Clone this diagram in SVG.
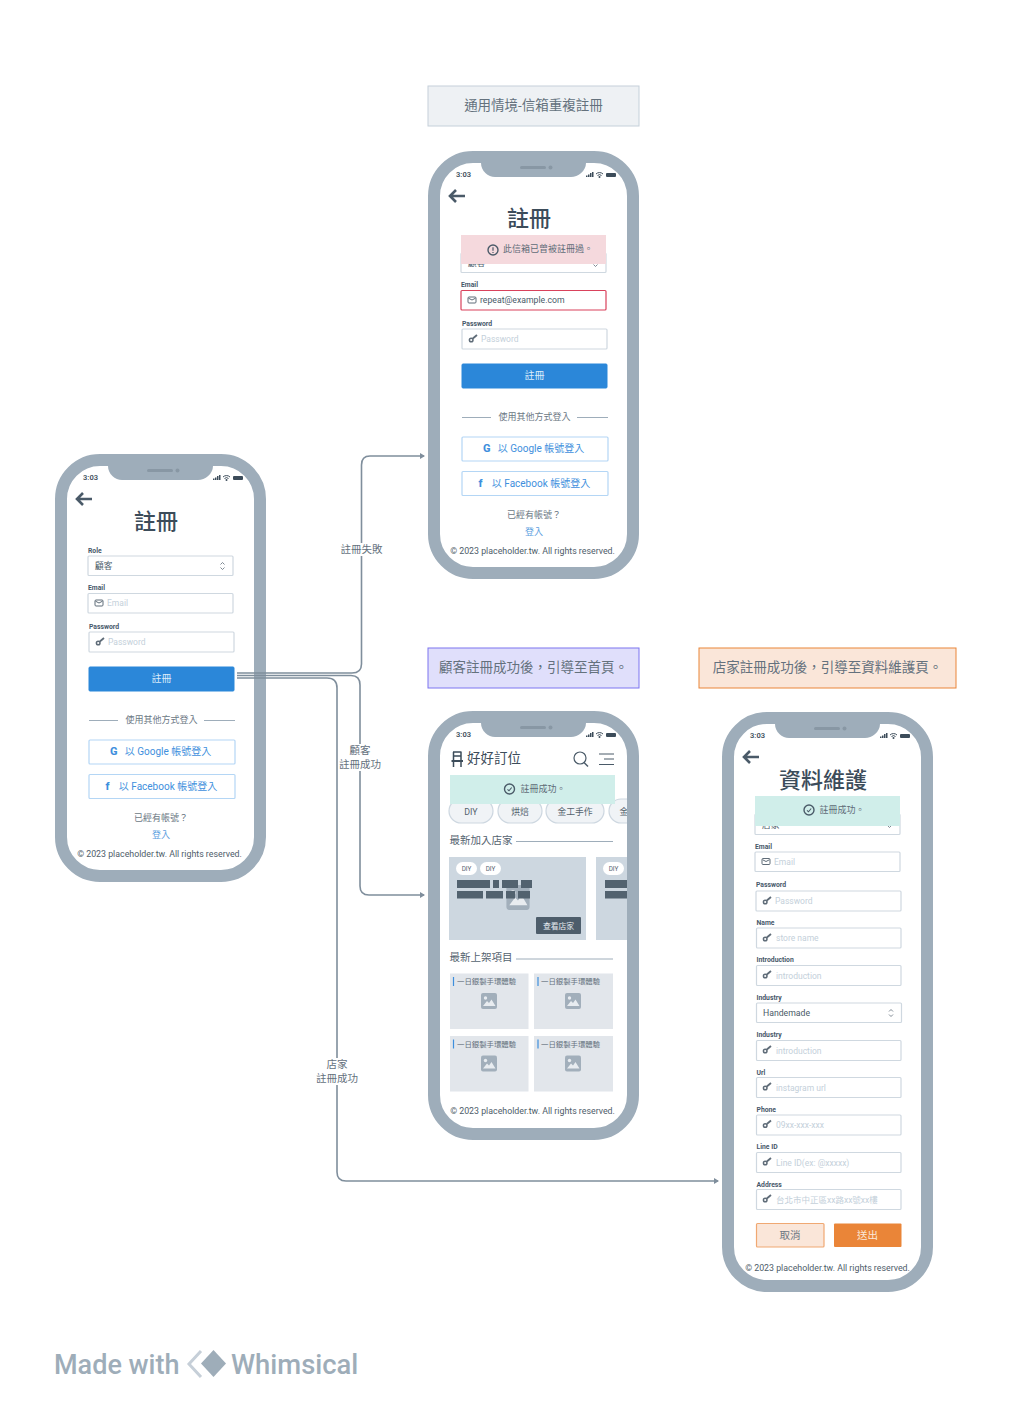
<svg xmlns="http://www.w3.org/2000/svg" xmlns:xlink="http://www.w3.org/1999/xlink" width="1024" height="1405" viewBox="0 0 1024 1405" xml:lang="zh-Hant">
<style>
text{font-family:Roboto,"Noto Sans CJK TC",sans-serif;fill:#5f6c78;font-size:9px}
.c{text-anchor:middle}
.lbl{font-size:6.8px;font-weight:700;fill:#47586a}
.ph{font-size:8.5px;fill:#c4d0da}
.val{font-size:8.7px;fill:#4a5a68}
.fld{fill:#fff;stroke:#cfd8e0;stroke-width:1.2}
.title{font-size:22px;font-weight:500;fill:#3c4c5a;text-anchor:middle}
.btn{fill:#2b87d9;stroke:#2b87d9}
.btnt{fill:#dcecf9;font-size:10px;text-anchor:middle}
.obtn{fill:#fff;stroke:#b4d6f5;stroke-width:1.2}
.blue{fill:#3e8fdd;font-size:10px;text-anchor:middle}
.muted{fill:#6c7884;font-size:9px;text-anchor:middle}
.copy{font-size:8.8px;fill:#4e5c69;text-anchor:middle}
.time{font-size:7.5px;font-weight:600;fill:#3c4c5a;text-anchor:middle}
.conn{fill:none;stroke:#7f8e9c;stroke-width:1.6}
.clab{font-size:10.5px;fill:#64717d;text-anchor:middle}
.frame{fill:none;stroke:#9eadba;stroke-width:12}
.head{font-size:10.5px;fill:#55636f}
.hr{stroke:#9eadba;stroke-width:1}
.chip{fill:#f0f3f6;stroke:#cdd7e0;stroke-width:1.2}
.chipt{font-size:8.8px;fill:#55636f;text-anchor:middle}
.pill{fill:#fff}
.pillt{font-size:6.4px;fill:#55636f;text-anchor:middle}
.bar{fill:#52626f}
.tile{fill:#e2e6eb}
.tilet{font-size:7.4px;fill:#64717d}
.banner{font-size:13.5px;fill:#64717d;text-anchor:middle}
.wm{font-size:27px;font-weight:500;fill:#9eadb9}
</style>
<defs>
<marker id="arr" markerWidth="6" markerHeight="6" refX="4" refY="3" orient="auto" markerUnits="userSpaceOnUse"><path d="M0 0L5 3L0 6z" fill="#7f8e9c"/></marker>
<clipPath id="scr"><rect x="12" y="12" width="187" height="404"/></clipPath>
<g id="top">
<path d="M53 12H158V12C158 20 150 26 143 26H67C60 26 53 20 53 12Z" fill="#9eadba"/>
<rect x="92" y="15" width="26" height="3" rx="1.5" fill="#8897a4"/>
<circle cx="122.500" cy="16.500" r="2" fill="#8897a4"/>
<text class="time" x="35.500" y="26">3:03</text>
<path d="M158 26h1.500v-1.500h-1.500zM160 26h1.500v-2.500h-1.500zM162 26h1.500v-4h-1.500zM164 26h1.500v-5h-1.500z" fill="#3c4c5a"/>
<path d="M168 23a5 5 0 0 1 7 0M169.500 24.500a3 3 0 0 1 4 0" fill="none" stroke="#3c4c5a" stroke-width="1"/>
<circle cx="171.500" cy="26" r="1" fill="#3c4c5a"/>
<rect x="178" y="22" width="10" height="4" rx="1" fill="#3c4c5a"/>
</g>
<g id="back"><path d="M17 0H2M8 -6L2 0L8 6" fill="none" stroke="#4a5a68" stroke-width="2.600"/></g>
<g id="mail"><rect x="0" y="0" width="8" height="6" rx="1" fill="none" stroke="#5f6c78" stroke-width="1"/><path d="M0.500 1.200L4 3L7.500 1.200" fill="none" stroke="#5f6c78" stroke-width="1"/></g>
<g id="key"><circle cx="2.200" cy="5" r="1.800" fill="none" stroke="#5f6c78" stroke-width="1.500"/><path d="M3.800 3.500L8 0" fill="none" stroke="#5f6c78" stroke-width="1.800"/></g>
<g id="updown"><path d="M-2 -1.500L0 -3.500L2 -1.500M-2 1.500L0 3.500L2 1.500" fill="none" stroke="#5f6c78" stroke-width="0.800"/></g>
<g id="pic"><rect x="-8" y="-8" width="16" height="16" rx="2" fill="#a2afbb"/><circle cx="-3.500" cy="-3" r="1.700" fill="#e8ecf0"/><path d="M-6 5L-2 0L0 2L2.500 -1.500L6.500 5Z" fill="#e8ecf0"/></g>
<g id="check"><circle r="5" fill="none" stroke="#4a5a68" stroke-width="1.400"/><path d="M-2 0.300L-0.500 1.800L2.200 -1.500" fill="none" stroke="#4a5a68" stroke-width="1.100"/></g>
<g id="warn"><circle r="5" fill="none" stroke="#4a5a68" stroke-width="1.400"/><path d="M0 -2.800V0.800M0 2V3" stroke="#4a5a68" stroke-width="1.200"/></g>
<g id="lower">
<rect class="btn" x="34" y="213" width="145" height="24" rx="1"/>
<text class="btnt" x="106.500" y="228">註冊</text>
<path class="hr" d="M34 266.500H63M149 266.500H180"/>
<text class="muted" x="106.500" y="269">使用其他方式登入</text>
<rect class="obtn" x="34" y="286" width="146" height="24" rx="1"/>
<text x="55" y="301" style="font-size:11px;font-weight:800;fill:#3e8fdd">G</text>
<text class="blue" x="113" y="301">以 Google 帳號登入</text>
<rect class="obtn" x="34" y="320.500" width="146" height="24" rx="1"/>
<text x="50.500" y="336" style="font-size:11px;font-weight:800;fill:#3e8fdd">f</text>
<text class="blue" x="113" y="335.500">以 Facebook 帳號登入</text>
<text class="muted" x="106" y="367">已經有帳號？</text>
<text class="c" x="106" y="383.500" style="fill:#5b9ee0;font-size:9px">登入</text>
<text class="copy" x="104.500" y="403">© 2023 placeholder.tw. All rights reserved.</text>
</g>
</defs>
<rect width="1024" height="1405" fill="#fff"/>

<g id="note-email"><rect x="428" y="86" width="211" height="40" fill="#eef1f4" stroke="#c5d0da"/><text class="banner" x="533.500" y="110">通用情境-信箱重複註冊</text></g>
<g id="note-customer"><rect x="428" y="648" width="211" height="40" fill="#e0dffb" stroke="#7c75f0"/><text class="banner" x="533.500" y="672">顧客註冊成功後，引導至首頁。</text></g>
<g id="note-store"><rect x="699" y="648" width="257" height="40" fill="#fae6d9" stroke="#ea8538"/><text class="banner" x="827.500" y="672">店家註冊成功後，引導至資料維護頁。</text></g>

<g id="phone-register" transform="translate(55 454)">
<rect x="6" y="6" width="199" height="416" rx="39" fill="#fff"/>
<use href="#back" x="20" y="45"/>
<text class="title" x="101" y="74.500">註冊</text>
<text class="lbl" x="33" y="98.500">Role</text>
<rect class="fld" x="33" y="102" width="145" height="19.500" rx="1"/>
<text class="val" x="40" y="114.500">顧客</text>
<use href="#updown" x="167.500" y="112"/>
<text class="lbl" x="33" y="136">Email</text>
<rect class="fld" x="33" y="139.500" width="145" height="19.500" rx="1"/>
<use href="#mail" x="40" y="146"/>
<text class="ph" x="52" y="152">Email</text>
<text class="lbl" x="34" y="175">Password</text>
<rect class="fld" x="34" y="178" width="145" height="20" rx="1"/>
<use href="#key" x="41" y="184"/>
<text class="ph" x="53" y="191">Password</text>
<use href="#lower"/>
<rect class="frame" x="6" y="6" width="199" height="416" rx="39"/>
<use href="#top"/>
</g>

<g id="phone-error" transform="translate(428 151)">
<rect x="6" y="6" width="199" height="416" rx="39" fill="#fff"/>
<use href="#back" x="20" y="45"/>
<text class="title" x="101" y="74.500">註冊</text>
<rect class="fld" x="33" y="102" width="145" height="19.500" rx="1"/>
<text class="val" x="40" y="114.500">顧客</text>
<use href="#updown" x="167.500" y="112"/>
<rect x="33" y="84" width="145" height="29" fill="#f5d9dd"/>
<use href="#warn" x="65" y="99"/>
<text x="75" y="101" style="font-size:9px;fill:#5f6c78">此信箱已曾被註冊過。</text>
<text class="lbl" x="33" y="136">Email</text>
<rect x="33" y="139.500" width="145" height="19.500" rx="1" fill="#fff" stroke="#d9425c" stroke-width="1.200"/>
<use href="#mail" x="40" y="146"/>
<text class="val" x="52" y="152">repeat@example.com</text>
<text class="lbl" x="34" y="175">Password</text>
<rect class="fld" x="34" y="178" width="145" height="20" rx="1"/>
<use href="#key" x="41" y="184"/>
<text class="ph" x="53" y="191">Password</text>
<use href="#lower"/>
<rect class="frame" x="6" y="6" width="199" height="416" rx="39"/>
<use href="#top"/>
</g>

<g id="phone-home" transform="translate(428 711)">
<rect x="6" y="6" width="199" height="416" rx="39" fill="#fff"/>
<path d="M25.500 41V56M33 41V56M25 41H33.500M25 45H33.500" fill="none" stroke="#3c4c5a" stroke-width="1.500"/>
<path d="M23.500 50H35" fill="none" stroke="#3c4c5a" stroke-width="2"/>
<text x="39" y="52" style="font-size:13.500px;fill:#3c4c5a">好好訂位</text>
<circle cx="152" cy="47" r="6" fill="none" stroke="#4a5a68" stroke-width="1.200"/>
<path d="M156 51.500L160 55.500" stroke="#4a5a68" stroke-width="1.400"/>
<path d="M171 43H186M176 48H186M171 53.500H186" stroke="#4a5a68" stroke-width="1"/>
<g clip-path="url(#scr)">
<rect class="chip" x="21" y="88" width="44" height="24" rx="12"/><text class="chipt" x="43" y="103.500">DIY</text>
<rect class="chip" x="70" y="88" width="44" height="24" rx="12"/><text class="chipt" x="92" y="103.500">烘焙</text>
<rect class="chip" x="118" y="88" width="58" height="24" rx="12"/><text class="chipt" x="147" y="103.500">金工手作</text>
<rect class="chip" x="181" y="88" width="58" height="24" rx="12"/><text class="chipt" x="196" y="103.500">金</text>
</g>
<rect x="22" y="64" width="165" height="29" fill="#d0eeea"/>
<use href="#check" x="81.500" y="78"/>
<text x="92.500" y="81" style="font-size:9px;fill:#5f6c78">註冊成功。</text>
<text class="head" x="21.500" y="133">最新加入店家</text>
<path class="hr" d="M88 130.500H185"/>
<rect x="21" y="146" width="137" height="83" fill="#cdd7e0"/>
<rect x="168" y="146" width="37" height="83" fill="#cdd7e0"/>
<rect class="pill" x="28" y="151" width="21" height="13" rx="6.500"/><text class="pillt" x="38.500" y="160">DIY</text>
<rect class="pill" x="52" y="151" width="21" height="13" rx="6.500"/><text class="pillt" x="62.500" y="160">DIY</text>
<rect class="pill" x="175" y="151" width="21" height="13" rx="6.500"/><text class="pillt" x="185.500" y="160">DIY</text>
<use href="#pic" transform="translate(90 186.500) scale(1.450 1.550)"/>
<path class="bar" d="M29 169h33v8h-33zM65 169h6v8h-6zM74 169h16v8h-16zM93 169h11v8h-11zM29 180h26v7.500h-26zM58 180h17v7.500h-17zM78 180h9v7.500h-9zM90 180h12v7.500h-12zM177 169h22v8h-22zM177 180h22v7.500h-22z"/>
<rect x="108" y="206" width="45" height="17" rx="1" fill="#4d5d6b"/>
<text class="c" x="130.500" y="217.500" style="font-size:7.800px;fill:#e6ebef">查看店家</text>
<text class="head" x="21.500" y="249.500">最新上架項目</text>
<path class="hr" d="M88 248H185"/>
<g id="tiles">
<rect class="tile" x="22" y="262.500" width="78.500" height="55.500"/><path d="M25.500 266V275" stroke="#3e8fdd" stroke-width="1.200"/><text class="tilet" x="29" y="273">一日銀製手環體驗</text><use href="#pic" x="61" y="290"/>
<rect class="tile" x="106" y="262.500" width="79" height="55.500"/><path d="M110 266V275" stroke="#3e8fdd" stroke-width="1.200"/><text class="tilet" x="113" y="273">一日銀製手環體驗</text><use href="#pic" x="145" y="290"/>
<rect class="tile" x="22" y="325" width="78.500" height="55.500"/><path d="M25.500 328.500V337.500" stroke="#3e8fdd" stroke-width="1.200"/><text class="tilet" x="29" y="335.500">一日銀製手環體驗</text><use href="#pic" x="61" y="352.500"/>
<rect class="tile" x="106" y="325" width="79" height="55.500"/><path d="M110 328.500V337.500" stroke="#3e8fdd" stroke-width="1.200"/><text class="tilet" x="113" y="335.500">一日銀製手環體驗</text><use href="#pic" x="145" y="352.500"/>
</g>
<text class="copy" x="104.500" y="403">© 2023 placeholder.tw. All rights reserved.</text>
<rect class="frame" x="6" y="6" width="199" height="417" rx="39"/>
<use href="#top"/>
</g>

<g id="phone-profile" transform="translate(722 712)">
<rect x="6" y="6" width="199" height="568" rx="39" fill="#fff"/>
<use href="#back" x="20" y="45"/>
<text class="title" x="101" y="75.500">資料維護</text>
<rect class="fld" x="33" y="102" width="145" height="20.500" rx="1"/>
<text class="val" x="40" y="116">店家</text>
<use href="#updown" x="167.500" y="112"/>
<rect x="33" y="84" width="145" height="30" fill="#d0eeea"/>
<use href="#check" x="87" y="98"/>
<text x="97.500" y="101" style="font-size:9px;fill:#5f6c78">註冊成功。</text>
<text class="lbl" x="33" y="136.500">Email</text><rect class="fld" x="33" y="140" width="145" height="19.500" rx="1"/><use href="#mail" x="40" y="146.500"/><text class="ph" x="52" y="152.500">Email</text>
<text class="lbl" x="34" y="175">Password</text><rect class="fld" x="34" y="179" width="145" height="20" rx="1"/><use href="#key" x="41" y="185"/><text class="ph" x="53" y="192">Password</text>
<text class="lbl" x="34.500" y="213">Name</text><rect class="fld" x="34.500" y="216" width="144.500" height="20" rx="1"/><use href="#key" x="41" y="222"/><text class="ph" x="54" y="229">store name</text>
<text class="lbl" x="34.500" y="250">Introduction</text><rect class="fld" x="34.500" y="253.500" width="144.500" height="20" rx="1"/><use href="#key" x="41" y="259"/><text class="ph" x="54" y="266.500">introduction</text>
<text class="lbl" x="34.500" y="287.500">Industry</text><rect class="fld" x="34.500" y="291" width="145" height="19.500" rx="1"/><text class="val" x="41" y="304">Handemade</text><use href="#updown" x="169" y="301"/>
<text class="lbl" x="34.500" y="325">Industry</text><rect class="fld" x="34.500" y="328.500" width="144.500" height="20" rx="1"/><use href="#key" x="41" y="334"/><text class="ph" x="54" y="341.500">introduction</text>
<text class="lbl" x="34.500" y="362.500">Url</text><rect class="fld" x="34.500" y="365.500" width="144.500" height="20" rx="1"/><use href="#key" x="41" y="371"/><text class="ph" x="54" y="378.500">instagram url</text>
<text class="lbl" x="34.500" y="400">Phone</text><rect class="fld" x="34.500" y="403" width="144.500" height="20" rx="1"/><use href="#key" x="41" y="408.500"/><text class="ph" x="54" y="416">09xx-xxx-xxx</text>
<text class="lbl" x="34.500" y="437">Line ID</text><rect class="fld" x="34.500" y="440.500" width="144.500" height="20" rx="1"/><use href="#key" x="41" y="446"/><text class="ph" x="54" y="453.500">Line ID(ex: @xxxxx)</text>
<text class="lbl" x="34.500" y="474.500">Address</text><rect class="fld" x="34.500" y="477.500" width="144.500" height="20" rx="1"/><use href="#key" x="41" y="483"/><text class="ph" x="54" y="490.500">台北市中正區xx路xx號xx樓</text>
<rect x="34.500" y="511.500" width="67.500" height="23.500" rx="1" fill="#fae6d9" stroke="#f0a872" stroke-width="1.200"/>
<text class="c" x="68" y="527" style="font-size:10.500px;fill:#6c7884">取消</text>
<rect x="112" y="511.500" width="67.500" height="23.500" rx="1" fill="#ea8538"/>
<text class="c" x="145.500" y="527" style="font-size:10.500px;fill:#fbe9da">送出</text>
<text class="copy" x="105.500" y="558.500">© 2023 placeholder.tw. All rights reserved.</text>
<rect class="frame" x="6" y="6" width="199" height="568" rx="39"/>
<use href="#top"/>
</g>

<g id="connectors">
<path class="conn" marker-end="url(#arr)" d="M237 673H352Q361.500 673 361.500 664V465Q361.500 456 370 456H424"/>
<path class="conn" marker-end="url(#arr)" d="M237 675.500H351Q360 675.500 360 685V886Q360 895 369 895H424"/>
<path class="conn" marker-end="url(#arr)" d="M237 678H327Q337 678 337 688V1172Q337 1181 346 1181H718"/>
<rect x="339" y="543" width="45" height="13" fill="#fff"/>
<text class="clab" x="361.500" y="553">註冊失敗</text>
<rect x="338" y="744" width="44" height="27" fill="#fff"/>
<text class="clab" x="360" y="754">顧客</text>
<text class="clab" x="360" y="768">註冊成功</text>
<rect x="315" y="1058" width="44" height="27" fill="#fff"/>
<text class="clab" x="337" y="1068">店家</text>
<text class="clab" x="337" y="1082">註冊成功</text>
</g>

<g id="watermark">
<text class="wm" x="54" y="1374">Made with</text>
<path d="M201 1351L189 1364L201 1377" fill="none" stroke="#c6cfd8" stroke-width="3"/>
<path d="M213.500 1350L226 1363.500L213.500 1377L201 1363.500Z" fill="#9eadb9"/>
<text class="wm" x="231" y="1374" style="font-size:27.400px">Whimsical</text>
</g>
</svg>
